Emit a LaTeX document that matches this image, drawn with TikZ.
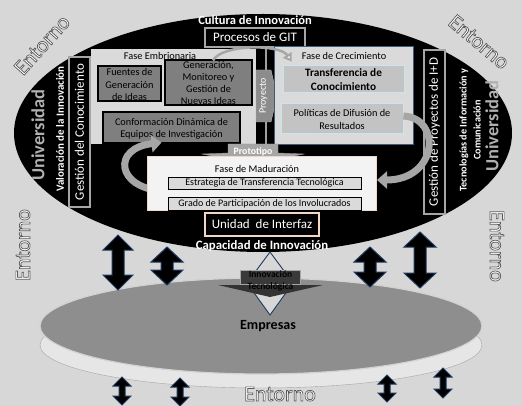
\documentclass[tikz,border=0pt]{standalone}
\usepackage{fontspec}
\setmainfont{Carlito}
\usetikzlibrary{calc,arrows.meta}
\definecolor{bg}{HTML}{D7D7D7}
\definecolor{boxdark}{HTML}{7F7F7F}
\definecolor{panel}{HTML}{DADADA}
\definecolor{crecb}{HTML}{3E5C7E}
\definecolor{cyanb}{HTML}{C9E6EE}
\definecolor{boxmid}{HTML}{C3C3C3}
\definecolor{madfill}{HTML}{F3F3F3}
\definecolor{pinkb}{HTML}{F2D6C6}
\definecolor{navy}{HTML}{1F3A60}
\definecolor{arrg}{HTML}{A6A6A6}
\definecolor{univ}{HTML}{B0B0B0}
\definecolor{emp}{HTML}{8E8E8E}
\definecolor{emplow}{HTML}{E6E6E6}
\definecolor{proy}{HTML}{8C8C8C}
\definecolor{inno}{HTML}{3A3A3A}
\tikzset{
  bx/.style={inner sep=0pt, align=center, font=\fontsize{10.3}{12}\selectfont},
  darkbox/.style={draw=black, line width=1.2pt, fill=boxdark, inner sep=0pt},
  midbox/.style={bx, draw=cyanb, line width=0.8pt, fill=boxmid},
  madbox/.style={bx, draw=black, line width=0.8pt, fill=panel},
  blackbox/.style={inner sep=0pt, draw=#1, line width=1.5pt, fill=black, text=white},
  wtxt/.style={text=white, inner sep=0pt, align=center},
  dbl/.style={fill=black, draw=navy, line width=1pt},
  curvarr/.style={draw=arrg, line width=7pt, -{Triangle[length=10pt,width=17pt]}},
  ent/.style={font=\fontsize{22}{24}\selectfont, inner sep=0pt, text=white},
}
\newcommand\outl[1]{\special{pdf:literal direct q 2 Tr 0.7 w 0.35 G}#1\special{pdf:literal direct Q}}
\newcommand\entornolabel[3]{%
  \node[ent, rotate=#3] (#1) at (#2) {\outl{Entorno}};}
\newcommand\dblarr[6]{%
  \filldraw[dbl] (#1-#4,#2+#6) -- (#1-#5,#2+#6) -- (#1,#2) -- (#1+#5,#2+#6) -- (#1+#4,#2+#6)
    -- (#1+#4,#3-#6) -- (#1+#5,#3-#6) -- (#1,#3) -- (#1-#5,#3-#6) -- (#1-#4,#3-#6) -- cycle;}
\begin{document}
\begin{tikzpicture}[x=1pt,y=-1pt]
\fill[bg] (0,0) rectangle (522,406);
\useasboundingbox (0,0) rectangle (522,406);

% lower "Empresas" discs
\filldraw[fill=emplow, draw=gray!70] (261,345) ellipse [x radius=221, y radius=43];
\filldraw[fill=emp, draw=gray!35, line width=1.2pt] (261,326) ellipse [x radius=221, y radius=48];
\node[font=\bfseries\fontsize{14}{16}\selectfont, inner sep=0pt] (emp) at (268,326) {Empresas};

% big black ellipse
\fill[black] (263,133) ellipse [x radius=249, y radius=119];

% Entorno labels
\entornolabel{e1}{42,45}{48}
\entornolabel{e2}{479,42}{-40}
\entornolabel{e3}{23,245}{90}
\entornolabel{e4}{497,246}{-90}
\entornolabel{e5}{280,394}{0}

% top texts
\node[wtxt, font=\bfseries\fontsize{12.5}{14}\selectfont] (cultura) at (255,20) {Cultura de Innovación};
\node[blackbox=gray!70, minimum width=100pt, minimum height=19pt, font=\fontsize{13}{15}\selectfont] (git) at (255,37.5) {Procesos de GIT};

% left column
\node[font=\bfseries\fontsize{18.5}{20}\selectfont, text=univ, rotate=90, inner sep=0pt] (univL) at (38,135) {Universidad};
\node[wtxt, font=\bfseries\fontsize{11}{13}\selectfont, rotate=90] (valor) at (60,129) {Valoración de la Innovación};
\node[blackbox=gray!70, rotate=90, minimum width=150pt, minimum height=21pt, font=\fontsize{13}{15}\selectfont] (gcon) at (79.5,132) {Gestión del Conocimiento};

% right column
\node[blackbox=gray!70, rotate=90, minimum width=164pt, minimum height=21pt, font=\fontsize{13}{15}\selectfont] (gproy) at (434.5,132) {Gestión de Proyectos de I+D};
\node[wtxt, font=\bfseries\fontsize{10.2}{14}\selectfont, rotate=90] (tic) at (470,130) {Tecnologías de Información y\\Comunicación};
\node[font=\bfseries\fontsize{18.5}{20}\selectfont, text=univ, rotate=90, inner sep=0pt] (univR) at (492,126) {Universidad};

% Fase Embrionaria
\node[fill=panel, minimum width=165pt, minimum height=95pt, inner sep=0pt] (emb) at (173.5,96.5) {};
\node[bx] (embt) at (160,56) {Fase Embrionaria};
\node[darkbox, minimum width=63pt, minimum height=35pt] (fuentes) at (129.5,83.5) {};
\node[bx, font=\fontsize{10.3}{12.3}\selectfont] (fuentest) at (129.5,84.5) {Fuentes de\\Generación\\de Ideas};
\node[darkbox, minimum width=87pt, minimum height=45pt] (gen) at (208.5,82.5) {};
\node[bx, font=\fontsize{10.3}{12}\selectfont] (gent) at (208.5,83) {Generación,\\Monitoreo y\\Gestión de\\Nuevas Ideas};
\node[darkbox, minimum width=137pt, minimum height=31pt] (conf) at (171.5,127.5) {};
\node[bx, font=\fontsize{10.3}{12}\selectfont] (conft) at (171.5,129) {Conformación Dinámica de\\Equipos de Investigación};

% vertical line from Procesos de GIT
\coordinate (protoTop) at (266,146);
\draw[gray!75, line width=1.2pt] ($(git.south)+(11,0)$) -- (protoTop);

% Proyecto arrow
\filldraw[fill=proy, draw=gray!60] (256,70) -- (271,70) -- (277,96) -- (271,122) -- (256,122) -- cycle;
\node[wtxt, font=\fontsize{10}{12}\selectfont, rotate=90] (proyt) at (263.5,96) {Proyecto};

% Fase de Crecimiento
\node[fill=panel, draw=crecb, line width=0.8pt, minimum width=139pt, minimum height=98pt, inner sep=0pt] (crec) at (343.5,95) {};
\node[bx] (crect) at (344,56) {Fase de Crecimiento};
\node[midbox, minimum width=121pt, minimum height=27pt] (transf) at (343.5,78.5) {};
\node[bx, font=\bfseries\fontsize{11.3}{14}\selectfont] (transft) at (343.5,79.5) {Transferencia de\\Conocimiento};
\node[midbox, minimum width=122pt, minimum height=30pt] (pol) at (342,118) {};
\node[bx, font=\fontsize{10.3}{13}\selectfont] (polt) at (342,119) {Políticas de Difusión de\\Resultados};

% top curved arrow
\draw[arrg, line width=2.5pt, -{Triangle[open, fill=white, length=8pt, width=10pt]}]
  ($(gen.north)+(4.5,1)$) .. controls (222,44) and (280,44) .. ($(transf.north west)+(9,-3)$);

% Prototipo arrow
\filldraw[fill=arrg, draw=gray!80] (228,144) -- (278,144) -- (278,153) -- (304,154) -- (253,164) -- (202,154) -- (228,153) -- cycle;
\node[wtxt, font=\bfseries\fontsize{9.8}{11}\selectfont] (proto) at (253,151.5) {Prototipo};

% curved return arrows
\draw[curvarr] (163,191) .. controls (116,188) and (112,148) .. ($(conf.south)+(-10,-1)$);
\draw[curvarr] ($(pol.east)+(0,-2)$) .. controls (442,118) and (438,180) .. (377,180);

% Fase de Maduracion
\node[fill=madfill, draw=pinkb, line width=1pt, minimum width=229pt, minimum height=54pt, inner sep=0pt] (mad) at (261.5,184) {};
\node[bx] (madt) at (257,169) {Fase de Maduración};
\node[madbox, minimum width=193pt, minimum height=12pt, font=\fontsize{10}{12}\selectfont] (estr) at (264.5,183) {Estrategia de Transferencia Tecnológica};
\node[madbox, minimum width=193pt, minimum height=13pt, font=\fontsize{10}{12}\selectfont] (grado) at (264.5,203.5) {Grado de Participación de los Involucrados};

\node[blackbox=pinkb, minimum width=114pt, minimum height=23pt, font=\fontsize{13}{15}\selectfont] (unidad) at (262,224.5) {Unidad\ \ de Interfaz};
\node[wtxt, font=\bfseries\fontsize{12.8}{14}\selectfont] (capac) at (262,246) {Capacidad de Innovación};

% Innovacion Tecnologica
\filldraw[fill=bg, draw=navy, line width=0.9pt] (270,252) -- (293,283) -- (270,315) -- (247,283) -- cycle;
\fill[black!80] (218,285) -- (323,285) -- (270,297) -- cycle;
\node[fill=inno, draw=gray!70, minimum width=60pt, minimum height=14pt, inner sep=0pt] (innob) at (270.5,277) {};
\node[bx, font=\bfseries\fontsize{9.5}{12}\selectfont, text=black] (innot) at (270.5,281) {Innovación\\Tecnológica};

% double arrows
\dblarr{118}{235}{290}{6}{15}{15}
\dblarr{167}{247}{285}{6}{16}{15}
\dblarr{370}{247}{287}{6}{16}{15}
\dblarr{420}{232}{288}{6}{16}{15}
\dblarr{122}{377}{405}{3}{9}{9}
\dblarr{180}{378}{406}{3}{9}{9}
\dblarr{387}{375}{402}{3}{9}{9}
\dblarr{443}{368}{398}{3}{9}{9}
\end{tikzpicture}
\end{document}
